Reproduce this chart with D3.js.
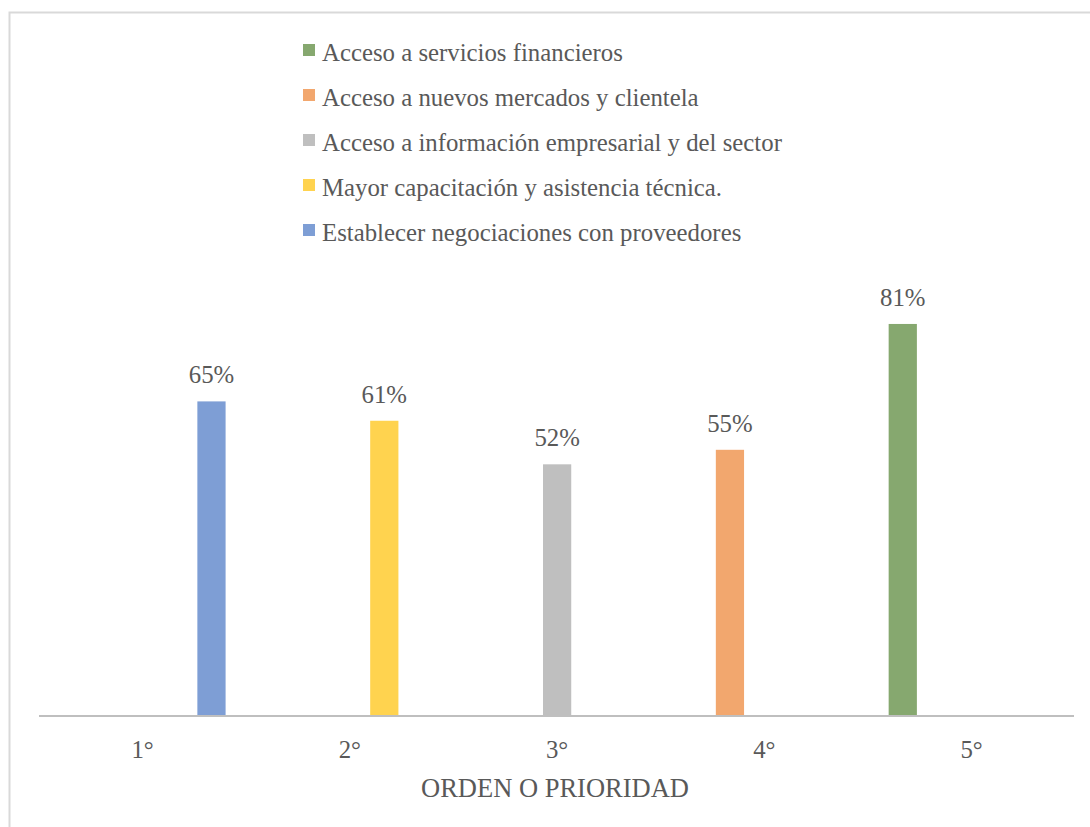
<!DOCTYPE html>
<html>
<head>
<meta charset="utf-8">
<script src="https://cdn.jsdelivr.net/npm/d3@7"></script>
<style>
  body { margin: 0; background: #fff; }
</style>
</head>
<body>
<div id="chart"></div>
<script>
const categories = ["1°", "2°", "3°", "4°", "5°"];
const seriesNames = [
  "Acceso a servicios financieros",
  "Acceso a nuevos mercados y clientela",
  "Acceso a información empresarial y del sector",
  "Mayor capacitación y asistencia técnica.",
  "Establecer negociaciones con proveedores"
];
const seriesColors = ["#86a86f", "#f2a76e", "#bfbfbf", "#ffd34f", "#7e9ed5"];
// one value per category, 0 = no bar
const financieros = [0, 0, 0, 0, 81];
const mercados = [0, 0, 0, 55, 0];
const informacion = [0, 0, 52, 0, 0];
const capacitacion = [0, 61, 0, 0, 0];
const proveedores = [65, 0, 0, 0, 0];
const seriesValues = [financieros, mercados, informacion, capacitacion, proveedores];

const width = 1090, height = 827;
const font = "'Liberation Serif', 'Times New Roman', serif";
const textColor = "#595959";

const svg = d3.select("#chart").append("svg")
  .attr("width", width)
  .attr("height", height)
  .style("font-family", font);

// chart frame
svg.append("rect")
  .attr("x", 9.5).attr("y", 12.5)
  .attr("width", 1200).attr("height", 1000)
  .attr("fill", "none")
  .attr("stroke", "#d9d9d9")
  .attr("stroke-width", 2);

const x0 = d3.scaleBand()
  .domain(categories)
  .range([39, 1075.25]);

const x1 = d3.scaleBand()
  .domain(d3.range(seriesNames.length))
  .range([0, x0.bandwidth()])
  .paddingInner(0.18)
  .paddingOuter(0.6);

const y = d3.scaleLinear()
  .domain([0, 100])
  .range([716, 232]);

const bars = [];
seriesValues.forEach((vals, s) => {
  vals.forEach((v, i) => {
    if (v > 0) bars.push({ s, cat: categories[i], v });
  });
});

svg.selectAll("rect.bar")
  .data(bars)
  .join("rect")
  .attr("class", "bar")
  .attr("x", d => x0(d.cat) + x1(d.s))
  .attr("width", x1.bandwidth())
  .attr("y", d => y(d.v))
  .attr("height", d => y(0) - y(d.v))
  .attr("fill", d => seriesColors[d.s]);

svg.selectAll("text.lbl")
  .data(bars)
  .join("text")
  .attr("class", "lbl")
  .attr("x", d => x0(d.cat) + x1(d.s) + x1.bandwidth() / 2)
  .attr("y", d => y(d.v) - 18)
  .attr("text-anchor", "middle")
  .style("font-family", font)
  .style("font-size", "24.8px")
  .attr("fill", textColor)
  .text(d => d.v + "%");

// x axis
const xAxis = svg.append("g")
  .attr("transform", `translate(0,${y(0)})`)
  .call(d3.axisBottom(x0).tickSize(0).tickPadding(0));
xAxis.select(".domain")
  .attr("d", "M39,0H1074")
  .attr("stroke", "#bfbfbf")
  .attr("stroke-width", 2);
xAxis.selectAll("text")
  .attr("dy", null)
  .attr("y", 42)
  .style("font-size", "24.8px")
  .style("font-family", font)
  .attr("fill", textColor);

svg.append("text")
  .attr("x", 555)
  .attr("y", 797)
  .attr("text-anchor", "middle")
  .style("font-family", font)
  .style("font-size", "26.5px")
  .attr("fill", textColor)
  .text("ORDEN O PRIORIDAD");

// legend
const rows = svg.append("g").selectAll("g")
  .data(seriesNames)
  .join("g")
  .attr("transform", (d, i) => `translate(303,${61 + i * 45})`);
rows.append("rect")
  .attr("x", 0).attr("y", -17)
  .attr("width", 12).attr("height", 12)
  .attr("fill", (d, i) => seriesColors[i]);
rows.append("text")
  .attr("x", 19)
  .attr("y", 0)
  .style("font-family", font)
  .style("font-size", "24.8px")
  .attr("fill", textColor)
  .text(d => d);
</script>
</body>
</html>
